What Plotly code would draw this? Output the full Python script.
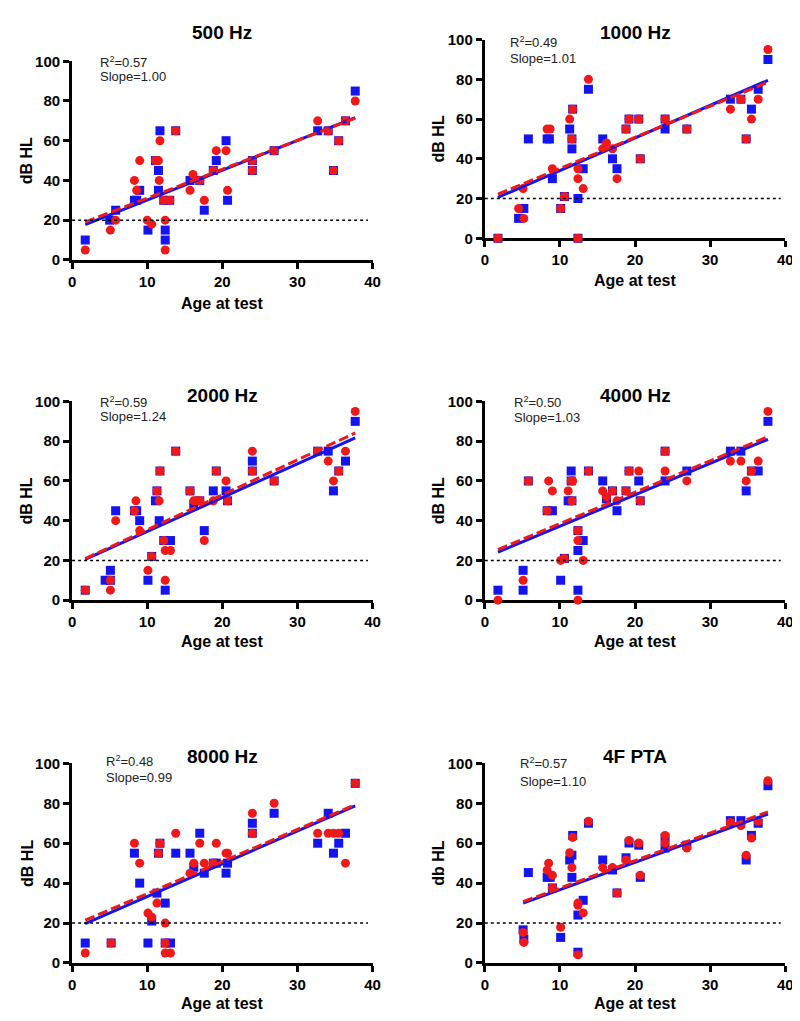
import numpy as np
import plotly.graph_objects as go

# ---- data (age at test, dB HL) ----
# blue squares / red circles, one pair of lists per panel

AGE_B_500 = [1.75, 5.0, 5.8, 8.3, 8.6, 9.0, 10.1, 11.1, 11.5, 11.5, 11.7, 12.2, 12.4, 12.4, 13.0, 13.8,
             15.7, 17.0, 17.6, 18.8, 19.2, 20.5, 20.7, 24.0, 24.0, 26.9, 32.7, 34.1, 34.8, 35.5, 36.4, 37.7]
DB_B_500 = [10, 20, 25, 30, 30, 35, 15, 50, 45, 35, 65, 30, 15, 10, 30, 65,
            40, 40, 25, 45, 50, 60, 30, 50, 45, 55, 65, 65, 45, 60, 70, 85]
AGE_R_500 = [1.75, 5.1, 5.8, 8.3, 8.6, 9.0, 10.0, 10.6, 11.1, 11.5, 11.6, 11.7, 12.2, 12.4, 12.4, 13.0, 13.8,
             15.7, 16.1, 17.0, 17.6, 18.8, 19.2, 20.5, 20.7, 24.0, 24.0, 26.9, 32.7, 34.1, 34.8, 35.5, 36.4, 37.7]
DB_R_500 = [5, 15, 20, 40, 35, 50, 20, 18, 50, 50, 40, 60, 30, 20, 5, 30, 65,
            35, 43, 40, 30, 45, 55, 55, 35, 50, 45, 55, 70, 65, 45, 60, 70, 80]

AGE_B_1000 = [1.75, 4.5, 5.2, 5.8, 8.3, 8.6, 9.0, 10.1, 10.6, 11.3, 11.6, 11.6, 11.7, 12.4, 12.4, 13.1, 13.8,
              15.7, 17.0, 17.6, 18.8, 19.2, 20.5, 20.7, 24.0, 24.0, 26.9, 32.7, 34.1, 34.8, 35.5, 36.4, 37.7]
DB_B_1000 = [0, 10, 15, 50, 50, 50, 30, 15, 21, 55, 45, 50, 65, 20, 0, 35, 75,
             50, 40, 35, 55, 60, 60, 40, 55, 60, 55, 70, 70, 50, 65, 75, 90]
AGE_R_1000 = [1.75, 4.5, 5.1, 5.2, 8.3, 8.7, 9.0, 10.1, 10.6, 11.3, 11.6, 11.7, 12.4, 12.4, 12.4, 13.1, 13.8,
              15.7, 16.2, 17.0, 17.6, 18.8, 19.2, 20.5, 20.7, 24.0, 26.9, 32.7, 34.1, 34.8, 35.5, 36.4, 37.7]
DB_R_1000 = [0, 15, 25, 10, 55, 55, 35, 15, 21, 60, 50, 65, 35, 30, 0, 25, 80,
             45, 48, 45, 30, 55, 60, 60, 40, 60, 55, 65, 70, 50, 60, 70, 95]

AGE_B_2000 = [1.75, 4.4, 5.1, 5.1, 5.8, 8.3, 8.6, 9.0, 10.1, 10.6, 11.1, 11.3, 11.6, 11.7, 12.2, 12.4, 13.1, 13.8,
              15.7, 16.2, 17.0, 17.6, 18.8, 19.2, 20.5, 20.7, 24.0, 24.0, 26.9, 32.7, 34.1, 34.8, 35.5, 36.4, 37.7]
DB_B_2000 = [5, 10, 15, 10, 45, 45, 45, 40, 10, 22, 50, 55, 40, 65, 30, 5, 30, 75,
             55, 48, 50, 35, 55, 65, 55, 50, 70, 65, 60, 75, 75, 55, 65, 70, 90]
AGE_R_2000 = [1.75, 5.1, 5.1, 5.8, 8.3, 8.5, 9.0, 10.1, 10.6, 11.3, 11.6, 11.7, 12.2, 12.4, 12.4, 13.1, 13.8,
              15.7, 16.2, 16.6, 17.0, 17.6, 18.8, 19.2, 20.5, 20.7, 24.0, 24.0, 26.9, 32.7, 34.1, 34.8, 35.5, 36.4, 37.7]
DB_R_2000 = [5, 10, 5, 40, 45, 50, 35, 15, 22, 55, 50, 65, 30, 25, 10, 25, 75,
             55, 50, 50, 50, 30, 50, 65, 60, 50, 75, 65, 60, 75, 70, 60, 65, 75, 95]

AGE_B_4000 = [1.75, 5.1, 5.1, 5.8, 8.3, 9.0, 10.1, 10.6, 11.1, 11.5, 11.5, 11.6, 12.4, 12.4, 12.4, 13.1, 13.8,
              15.7, 16.2, 17.0, 17.6, 18.8, 19.2, 20.5, 20.7, 24.0, 24.0, 26.9, 32.7, 34.1, 34.8, 35.5, 36.4, 37.7]
DB_B_4000 = [5, 15, 5, 60, 45, 45, 10, 21, 50, 65, 60, 50, 35, 25, 5, 30, 65,
             60, 51, 55, 45, 55, 65, 60, 50, 75, 60, 65, 75, 75, 55, 65, 65, 90]
AGE_R_4000 = [1.75, 5.1, 5.8, 8.3, 8.5, 9.0, 10.1, 10.6, 11.1, 11.5, 11.7, 11.6, 12.4, 12.4, 12.4, 13.1, 13.8,
              15.7, 16.2, 17.0, 17.6, 18.8, 19.2, 20.5, 20.7, 24.0, 24.0, 26.9, 32.7, 34.1, 34.8, 35.5, 36.4, 37.7]
DB_R_4000 = [0, 10, 60, 45, 60, 55, 20, 21, 55, 60, 60, 50, 35, 30, 0, 20, 65,
             55, 52, 55, 50, 55, 65, 65, 50, 75, 65, 60, 70, 70, 60, 65, 70, 95]

AGE_B_8000 = [1.75, 5.2, 8.3, 9.0, 10.1, 10.6, 11.3, 11.5, 11.7, 12.4, 12.4, 13.1, 13.8,
              15.7, 16.2, 17.0, 17.6, 18.8, 19.2, 20.5, 20.7, 24.0, 24.0, 26.9, 32.7, 34.1, 34.8, 35.5, 36.4, 37.7]
DB_B_8000 = [10, 10, 55, 40, 10, 21, 35, 55, 60, 30, 10, 10, 55,
             55, 48, 65, 45, 50, 50, 45, 50, 70, 65, 75, 60, 75, 55, 60, 65, 90]
AGE_R_8000 = [1.75, 5.2, 8.3, 9.0, 10.1, 10.6, 11.3, 11.5, 11.7, 12.4, 12.4, 12.4, 13.1, 13.8,
              15.7, 16.2, 17.0, 17.6, 18.8, 19.2, 20.5, 20.7, 24.0, 24.0, 26.9, 32.7, 34.1, 34.8, 35.5, 36.4, 37.7]
DB_R_8000 = [5, 10, 60, 50, 25, 23, 30, 55, 60, 20, 10, 5, 5, 65,
             45, 50, 60, 50, 50, 60, 55, 55, 75, 65, 80, 65, 65, 65, 65, 50, 90]

AGE_B_PTA = [5.1, 5.2, 5.8, 8.3, 8.7, 9.0, 10.1, 11.3, 11.6, 11.6, 11.7, 12.4, 12.4, 13.1, 13.8,
             15.7, 17.0, 17.6, 18.8, 19.2, 20.5, 20.7, 24.0, 24.0, 26.9, 32.7, 34.1, 34.8, 35.5, 36.4, 37.7]
DB_B_PTA = [16.6, 12.0, 45.3, 42.9, 42.9, 37.6, 12.8, 51.6, 54.0, 42.9, 63.9, 24.0, 5.4, 31.4, 70.0,
            51.6, 46.6, 35.1, 52.7, 60.1, 59.0, 42.9, 62.6, 57.6, 59.0, 71.3, 71.3, 51.6, 63.9, 70.0, 88.8]
AGE_R_PTA = [5.1, 5.2, 8.3, 8.5, 9.0, 9.0, 10.1, 11.3, 11.6, 11.7, 12.4, 12.4, 12.4, 13.1, 13.8,
             15.7, 17.0, 17.6, 18.8, 19.2, 20.5, 20.7, 24.0, 24.0, 26.9, 32.7, 34.1, 34.8, 35.5, 36.4, 37.7]
DB_R_PTA = [15.3, 10.3, 46.5, 50.0, 44.0, 37.6, 17.9, 55.2, 47.8, 62.9, 30.0, 28.9, 4.1, 25.1, 71.0,
            47.8, 47.8, 35.1, 51.6, 61.4, 60.1, 44.0, 63.9, 60.1, 57.6, 70.4, 68.8, 54.0, 62.6, 71.0, 91.3]

# regression lines as drawn in the figure (slope, intercept)
FIT_B_SLOPE = [1.50, 1.64, 1.70, 1.58, 1.64, 1.37]
FIT_B_INTERCEPT = [15.1, 17.7, 17.6, 21.4, 16.9, 23.0]
FIT_R_SLOPE = [1.455, 1.57, 1.76, 1.58, 1.61, 1.38]
FIT_R_INTERCEPT = [16.5, 19.4, 17.8, 22.7, 18.6, 23.7]

TITLES = ["500 Hz", "1000 Hz", "2000 Hz", "4000 Hz", "8000 Hz", "4F PTA"]
R2_VALUES = ["0.57", "0.49", "0.59", "0.50", "0.48", "0.57"]
SLOPE_VALUES = ["1.00", "1.01", "1.24", "1.03", "0.99", "1.10"]
Y_TITLES = ["dB HL", "dB HL", "dB HL", "dB HL", "dB HL", "db HL"]
X_TICKS = [0, 10, 20, 30, 40]
Y_TICKS = [0, 20, 40, 60, 80, 100]
THRESHOLD = 20

BLUE_X = [AGE_B_500, AGE_B_1000, AGE_B_2000, AGE_B_4000, AGE_B_8000, AGE_B_PTA]
BLUE_Y = [DB_B_500, DB_B_1000, DB_B_2000, DB_B_4000, DB_B_8000, DB_B_PTA]
RED_X = [AGE_R_500, AGE_R_1000, AGE_R_2000, AGE_R_4000, AGE_R_8000, AGE_R_PTA]
RED_Y = [DB_R_500, DB_R_1000, DB_R_2000, DB_R_4000, DB_R_8000, DB_R_PTA]

# ---- layout, in pixels of the 800 x 1021 page ----
W, H = 800, 1021
# plot boxes: left, right, top, bottom
BOXES = [(61, 366, 45, 247), (480, 785, 23, 225),
         (61, 366, 391, 593), (480, 785, 391, 593),
         (61, 366, 759, 962), (480, 785, 759, 962)]
TITLE_Y = [16, 16, 385, 385, 752, 752]
STAT_POS = [(87, 46, 61), (504, 25, 42), (87, 392, 406), (508, 392, 407), (93, 757, 773), (514, 759, 777)]
XTITLE_Y = [291, 268, 635, 635, 1003, 1003]
YTITLE_X = [15, 433, 15, 433, 15, 433]

BLUE = "#1414f0"
RED = "#f01818"
FONT = "Liberation Sans, Arial, sans-serif"


def px(x):
    return x / W


def py(y):
    return 1 - y / H


fig = go.Figure()
annotations = []
shapes = []

for i in range(6):
    n = "" if i == 0 else str(i + 1)
    xa, ya = "x" + n, "y" + n
    l, r, t, b = BOXES[i]

    axis_common = dict(showline=True, linewidth=3, linecolor="black", ticks="outside",
                       ticklen=6, tickwidth=3, tickcolor="black", showgrid=False,
                       zeroline=False, layer="below traces",
                       tickfont=dict(family=FONT, size=15, color="black", weight="bold"))
    fig.layout["xaxis" + n] = dict(axis_common, domain=[px(l), px(r)], range=[0, 40],
                                   tickvals=X_TICKS, anchor=ya)
    fig.layout["yaxis" + n] = dict(axis_common, domain=[py(b), py(t)], range=[0, 100],
                                   tickvals=Y_TICKS, anchor=xa)

    bx, by = np.array(BLUE_X[i]), np.array(BLUE_Y[i])
    rx, ry = np.array(RED_X[i]), np.array(RED_Y[i])

    fig.add_trace(go.Scatter(x=bx, y=by, mode="markers", xaxis=xa, yaxis=ya, cliponaxis=False,
                             marker=dict(symbol="square", size=9, color=BLUE), showlegend=False))
    fig.add_trace(go.Scatter(x=rx, y=ry, mode="markers", xaxis=xa, yaxis=ya, cliponaxis=False,
                             marker=dict(symbol="circle", size=9, color=RED), showlegend=False))
    # red points that sit exactly on a blue one show as a red square with a blue rim
    same = np.array([np.any((np.abs(bx - x) < 0.05) & (np.abs(by - y) < 0.6)) for x, y in zip(rx, ry)])
    fig.add_trace(go.Scatter(x=rx[same], y=ry[same], mode="markers", xaxis=xa, yaxis=ya, cliponaxis=False,
                             marker=dict(symbol="square", size=7, color=RED), showlegend=False))

    # regression lines over the range of the data
    for xs, k, c, col, dash in [(bx, FIT_B_SLOPE[i], FIT_B_INTERCEPT[i], BLUE, "solid"),
                                (rx, FIT_R_SLOPE[i], FIT_R_INTERCEPT[i], RED, "10px,4px")]:
        fx = np.array([xs.min(), xs.max()])
        fig.add_trace(go.Scatter(x=fx, y=k * fx + c, mode="lines", xaxis=xa, yaxis=ya,
                                 line=dict(color=col, width=3, dash=dash), showlegend=False))

    shapes.append(dict(type="line", xref=xa + " domain", yref=ya, x0=0, x1=0.985,
                       y0=THRESHOLD, y1=THRESHOLD, line=dict(color="black", width=1.5, dash="dot")))

    annotations.append(dict(text=TITLES[i], x=px((l + r) / 2), y=py(TITLE_Y[i]), xref="paper", yref="paper",
                            xanchor="center", yanchor="middle", showarrow=False,
                            font=dict(family=FONT, size=19, color="black", weight="bold")))
    sx, s1, s2 = STAT_POS[i]
    annotations.append(dict(text="R<sup>2</sup>=" + R2_VALUES[i], x=px(sx), y=py(s1), xref="paper",
                            yref="paper", xanchor="left", yanchor="middle", showarrow=False,
                            font=dict(family=FONT, size=13, color="#222222", weight="normal")))
    annotations.append(dict(text="Slope=" + SLOPE_VALUES[i], x=px(sx), y=py(s2), xref="paper",
                            yref="paper", xanchor="left", yanchor="middle", showarrow=False,
                            font=dict(family=FONT, size=13, color="#222222", weight="normal")))
    annotations.append(dict(text="Age at test", x=px((l + r) / 2), y=py(XTITLE_Y[i]), xref="paper",
                            yref="paper", xanchor="center", yanchor="middle", showarrow=False,
                            font=dict(family=FONT, size=16, color="black", weight="bold")))
    annotations.append(dict(text=Y_TITLES[i], x=px(YTITLE_X[i]), y=py((t + b) / 2), xref="paper",
                            yref="paper", xanchor="center", yanchor="middle", showarrow=False,
                            textangle=-90,
                            font=dict(family=FONT, size=16, color="black", weight="bold")))

fig.update_layout(width=W, height=H, margin=dict(l=0, r=0, t=0, b=0),
                  paper_bgcolor="white", plot_bgcolor="white",
                  annotations=annotations, shapes=shapes)

fig.write_html("out.html")
